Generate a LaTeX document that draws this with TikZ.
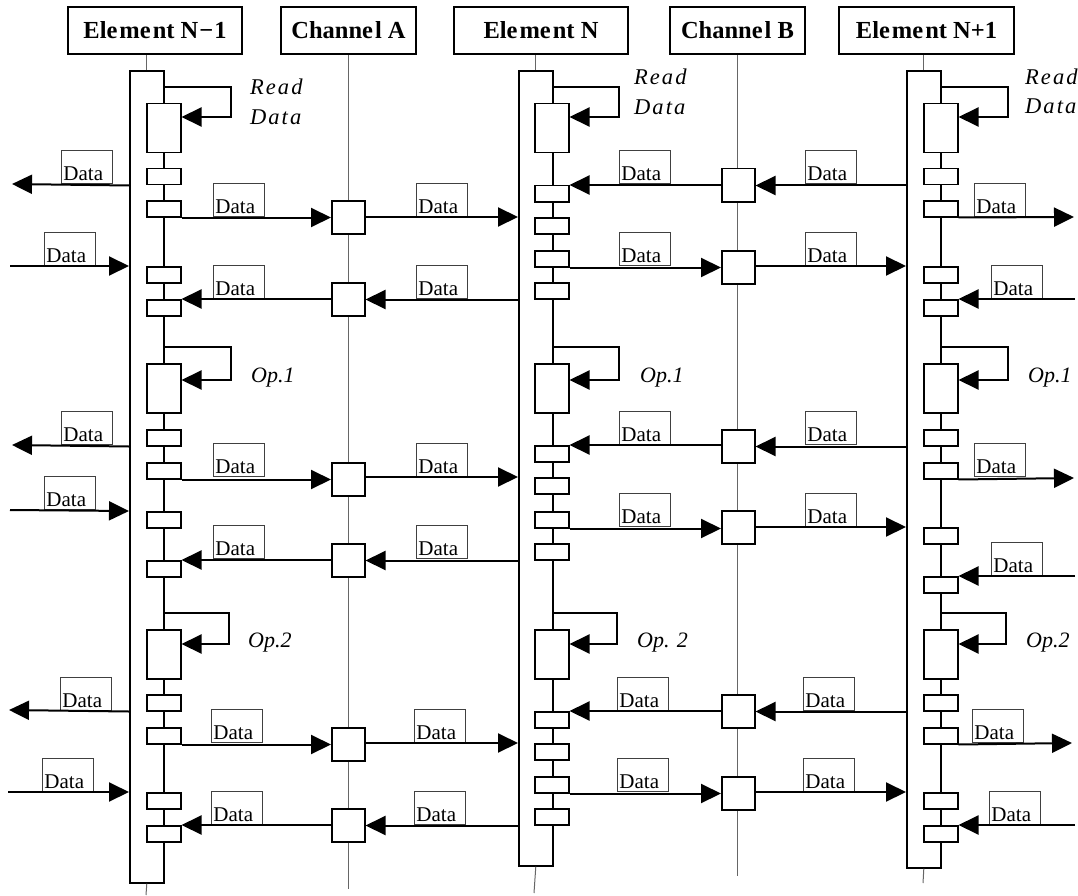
\documentclass[tikz,border=0pt]{standalone}
\usepackage{fontspec}
\setmainfont{Liberation Serif}
\newfontfamily\rdfont[LetterSpace=9]{Liberation Serif}
\usetikzlibrary{arrows.meta}
\newcounter{lc}
\newcommand\SB[3]{\node[smallbox] (#1) at (#2,#3) {};}
\newcommand\OB[3]{\node[opbox] (#1) at (#2,#3) {};}
\newcommand\CB[3]{\node[chbox] (#1) at (#2,#3) {};}
\newcommand\LB[2]{\stepcounter{lc}\node[lab] (lab\arabic{lc}) at (#1,#2) {Data};}
\newcommand\SL[5]{\draw[arr] (#1.east |- 0,#4) -- (#3,#4) -- (#3,#5) -- (#2.east |- 0,#5);}
\tikzset{
  hdr/.style={draw, line width=2.2pt, minimum width=#1, minimum height=47pt, inner sep=0pt,
    font=\fontsize{24.5}{25}\selectfont\bfseries},
  tallbox/.style={draw, line width=1.6pt, minimum width=34pt, inner sep=0pt, anchor=north west},
  smallbox/.style={draw, fill=white, line width=1.5pt, minimum width=34pt, minimum height=16pt, inner sep=0pt, anchor=north west},
  opbox/.style={draw, fill=white, line width=1.5pt, minimum width=34pt, minimum height=49pt, inner sep=0pt, anchor=north west},
  chbox/.style={draw, fill=white, line width=1.5pt, minimum width=33pt, minimum height=33pt, inner sep=0pt, anchor=north west},
  lab/.style={draw=black!75, line width=0.9pt, inner xsep=2pt, inner ysep=0pt, text width=47pt,
    text height=30pt, text depth=3pt, align=left, anchor=south west, font=\fontsize{21}{21}\selectfont},
  arr/.style={line width=2pt, -{Triangle[length=20pt,width=19pt]}},
  life/.style={draw=black!60, line width=1pt},
  rdl/.style={inner sep=0pt, anchor=base west, font=\fontsize{22.5}{22.5}\rdfont\itshape},
  opl/.style={inner sep=0pt, anchor=base west, font=\fontsize{22}{22}\selectfont\itshape}
}
\begin{document}
\begin{tikzpicture}[x=1pt,y=-1pt]
\useasboundingbox (0,0) rectangle (1078,896);
% headers
\node[hdr=174pt] (h1) at (155,30.5) {Ele\kern2pt me\kern2pt nt N\kern1pt−\kern1pt1};
\node[hdr=135pt] (h2) at (348.5,30.5) {Channe\kern2pt l A};
\node[hdr=174pt] (h3) at (541,30.5) {Ele\kern2pt me\kern2pt nt N};
\node[hdr=135pt] (h4) at (737.5,30.5) {Channe\kern2pt l B};
\node[hdr=175pt] (h5) at (926.5,30.5) {Ele\kern2pt me\kern2pt nt N+1};
% channel lifelines
\coordinate (ea) at (348.5,889);
\coordinate (eb) at (737.5,876);
\draw[life] (h2.south) -- (ea);
\draw[life] (h4.south) -- (eb);
% tall activation boxes
\node[tallbox, minimum height=812pt] (t1) at (129,70) {};
\node[tallbox, minimum height=795pt] (t2) at (518,70) {};
\node[tallbox, minimum height=797pt] (t3) at (906,70) {};
\coordinate (z1) at (146,895);
\coordinate (z2) at (534,893);
\coordinate (z3) at (923,883);
\draw[life] (t1.north |- h1.south) -- (t1.north);
\draw[life] (t2.north |- h3.south) -- (t2.north);
\draw[life] (t3.north |- h5.south) -- (t3.north);
\draw[life] (t1.south) -- (z1);
\draw[life] (t2.south) -- (z2);
\draw[life] (t3.south) -- (z3);
% op boxes
\OB{pu1}{146}{103} \OB{pv1}{534}{103} \OB{pw1}{923}{103}
\OB{pu2}{146}{363} \OB{pv2}{534}{363} \OB{pw2}{923}{363}
\OB{pu3}{146}{629} \OB{pv3}{534}{629} \OB{pw3}{923}{629}
% small boxes
\SB{u1a}{146}{168} \SB{u1b}{146}{200} \SB{u1c}{146}{266} \SB{u1d}{146}{299}
\SB{v1a}{534}{185} \SB{v1b}{534}{217} \SB{v1c}{534}{250} \SB{v1d}{534}{282}
\SB{w1a}{923}{168} \SB{w1b}{923}{200} \SB{w1c}{923}{266} \SB{w1d}{923}{299}
\SB{u2a}{146}{429} \SB{u2b}{146}{462} \SB{u2c}{146}{511} \SB{u2d}{146}{560}
\SB{v2a}{534}{445} \SB{v2b}{534}{477} \SB{v2c}{534}{511} \SB{v2d}{534}{543}
\SB{w2a}{923}{429} \SB{w2b}{923}{462} \SB{w2c}{923}{527} \SB{w2d}{923}{576}
\SB{u3a}{146}{694} \SB{u3b}{146}{727} \SB{u3c}{146}{792} \SB{u3d}{146}{825}
\SB{v3a}{534}{711} \SB{v3b}{534}{743} \SB{v3c}{534}{776} \SB{v3d}{534}{808}
\SB{w3a}{923}{694} \SB{w3b}{923}{727} \SB{w3c}{923}{792} \SB{w3d}{923}{825}
% channel boxes
\CB{ca1}{331}{200} \CB{ca2}{331}{282} \CB{cb1}{721}{168} \CB{cb2}{721}{250}
\CB{ca3}{331}{462} \CB{ca4}{331}{543} \CB{cb3}{721}{429} \CB{cb4}{721}{510}
\CB{ca5}{331}{727} \CB{ca6}{331}{808} \CB{cb5}{721}{694} \CB{cb6}{721}{776}
% self loops
\SL{t1}{pu1}{231}{87}{117} \SL{t2}{pv1}{619}{87}{117} \SL{t3}{pw1}{1008}{87}{117}
\SL{t1}{pu2}{231}{347}{380} \SL{t2}{pv2}{619}{347}{380} \SL{t3}{pw2}{1008}{347}{380}
\SL{t1}{pu3}{229}{613}{644} \SL{t2}{pv3}{617}{613}{644} \SL{t3}{pw3}{1006}{613}{644}
% loop labels
\node[rdl] (rd1) at (250,95) {Read};  \node[rdl] (rd2) at (250,125) {Data};
\node[rdl] (rd3) at (634,85) {Read};  \node[rdl] (rd4) at (634,115) {Data};
\node[rdl] (rd5) at (1025,85) {Read}; \node[rdl] (rd6) at (1025,114) {Data};
\node[opl] (op1) at (251,382) {Op.1};
\node[opl] (op2) at (640,382) {Op.1};
\node[opl] (op3) at (1028,382) {Op.1};
\node[opl] (op4) at (248,647) {Op.2};
\node[opl] (op5) at (637,647) {Op. 2};
\node[opl] (op6) at (1026,647) {Op.2};
% free ends
\coordinate (lo1) at (12,184);  \coordinate (li1) at (10,266);
\coordinate (ro1) at (1074,217); \coordinate (ri1) at (1075,299);
\coordinate (lo2) at (12,445);  \coordinate (li2) at (10,510);
\coordinate (ro2) at (1074,478); \coordinate (ri2) at (1075,576);
\coordinate (lo3) at (9,710);   \coordinate (li3) at (8,792);
\coordinate (ro3) at (1072,743); \coordinate (ri3) at (1075,825);
% data labels
\LB{61}{184} \LB{213}{217} \LB{44}{266} \LB{213}{299} \LB{416}{217} \LB{416}{299}
\LB{619}{184} \LB{619}{266} \LB{805}{184} \LB{805}{266} \LB{974}{217} \LB{991}{299}
\LB{61}{445} \LB{213}{477} \LB{44}{510} \LB{213}{559} \LB{619}{445} \LB{416}{477}
\LB{619}{527} \LB{416}{559} \LB{805}{445} \LB{974}{477} \LB{805}{527} \LB{991}{576}
\LB{60}{711} \LB{211}{743} \LB{42}{792} \LB{211}{825} \LB{617}{711} \LB{414}{743}
\LB{617}{792} \LB{414}{825} \LB{803}{711} \LB{972}{743} \LB{803}{792} \LB{989}{825}
% group 1 arrows
\draw[arr] (t1.west |- u1a.south) -- (lo1);
\draw[arr] (u1b.south east) -- (u1b.south east -| ca1.west);
\draw[arr] (li1) -- (t1.west |- u1c.north);
\draw[arr] (ca2.west |- u1d.north) -- (u1d.north east);
\draw[arr] (ca1.east |- v1b.north) -- (t2.west |- v1b.north);
\draw[arr] (t2.west |- v1d.south) -- (ca2.east |- v1d.south);
\draw[arr] (cb1.west |- v1a.north) -- (v1a.north east);
\draw[arr] (v1c.south east) -- (cb2.west |- v1c.south);
\draw[arr] (t3.west |- w1a.south) -- (cb1.east |- w1a.south);
\draw[arr] (cb2.east |- w1c.north) -- (t3.west |- w1c.north);
\draw[arr] (w1b.south east) -- (ro1);
\draw[arr] (ri1) -- (w1d.north east);
% group 2 arrows
\draw[arr] (t1.west |- u2a.south) -- (lo2);
\draw[arr] (u2b.south east) -- (u2b.south east -| ca3.west);
\draw[arr] (li2) -- (t1.west |- u2c.north);
\draw[arr] (ca4.west |- u2d.north) -- (u2d.north east);
\draw[arr] (cb3.west |- v2a.north) -- (v2a.north east);
\draw[arr] (ca3.east |- v2b.north) -- (t2.west |- v2b.north);
\draw[arr] (v2c.south east) -- (cb4.west |- v2c.south);
\draw[arr] (t2.west |- v2d.south) -- (ca4.east |- v2d.south);
\draw[arr] (t3.west |- w2a.south) -- (cb3.east |- w2a.south);
\draw[arr] (w2b.south east) -- (ro2);
\draw[arr] (cb4.east |- w2c.north) -- (t3.west |- w2c.north);
\draw[arr] (ri2) -- (w2d.north east);
% group 3 arrows
\draw[arr] (t1.west |- u3a.south) -- (lo3);
\draw[arr] (u3b.south east) -- (u3b.south east -| ca5.west);
\draw[arr] (li3) -- (t1.west |- u3c.north);
\draw[arr] (ca6.west |- u3d.north) -- (u3d.north east);
\draw[arr] (cb5.west |- v3a.north) -- (v3a.north east);
\draw[arr] (ca5.east |- v3b.north) -- (t2.west |- v3b.north);
\draw[arr] (v3c.south east) -- (cb6.west |- v3c.south);
\draw[arr] (t2.west |- v3d.south) -- (ca6.east |- v3d.south);
\draw[arr] (t3.west |- w3a.south) -- (cb5.east |- w3a.south);
\draw[arr] (w3b.south east) -- (ro3);
\draw[arr] (cb6.east |- w3c.north) -- (t3.west |- w3c.north);
\draw[arr] (ri3) -- (w3d.north east);
\end{tikzpicture}
\end{document}
